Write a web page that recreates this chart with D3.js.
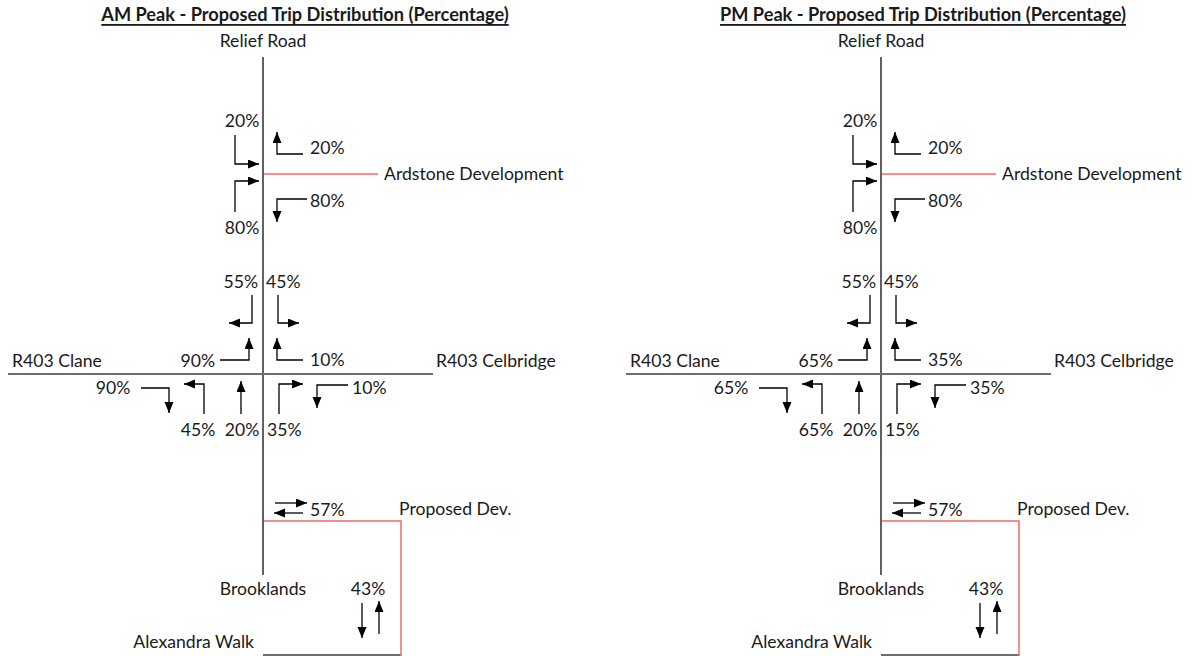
<!DOCTYPE html>
<html>
<head>
<meta charset="utf-8">
<script src="https://cdn.jsdelivr.net/npm/d3@7"></script>
<style>
  body { margin:0; background:#fff; }
  svg text { font-family: Lato, "Open Sans", sans-serif; fill:#1a1a1a; }
</style>
</head>
<body>
<div class="chart"></div>
<script>
//Data
const peaks = ['AM Peak', 'PM Peak'];
const movements = [
  'Relief Rd S to Ardstone', 'Ardstone to Relief Rd N', 'Relief Rd N to Ardstone', 'Ardstone to Relief Rd S',
  'South to R403 Clane', 'South to R403 Celbridge', 'Clane to North', 'Celbridge to North',
  'Clane to South', 'North to Clane', 'North ahead', 'North to Celbridge', 'Celbridge to South',
  'Proposed Dev. via Brooklands', 'Proposed Dev. via Alexandra Walk'
];
const amPct = [20, 20, 80, 80, 55, 45, 90, 10, 90, 45, 20, 35, 10, 57, 43];
const pmPct = [20, 20, 80, 80, 55, 45, 65, 35, 65, 65, 20, 15, 35, 57, 43];
const roadNames = ['Relief Road', 'Ardstone Development', 'R403 Clane', 'R403 Celbridge', 'Proposed Dev.', 'Brooklands', 'Alexandra Walk'];

//Layout (local coords: x relative to the main road, y from top)
const arrowLayout = [
  {paths:[[[-28,135],[-28,164],[-4,164]]], lx:-21, ly:121, a:'middle'},
  {paths:[[[40,154],[14,154],[14,132]]], lx:47, ly:148, a:'start'},
  {paths:[[[-28,212],[-28,181],[-4,181]]], lx:-21, ly:228, a:'middle'},
  {paths:[[[44,199],[14,199],[14,222]]], lx:47, ly:201, a:'start'},
  {paths:[[[-11,295],[-11,323],[-34,323]]], lx:-5, ly:282, a:'end'},
  {paths:[[[15,295],[15,323],[36,323]]], lx:3, ly:282, a:'start'},
  {paths:[[[-43,360],[-14,360],[-14,338]]], lx:-48, ly:361, a:'end'},
  {paths:[[[40,360],[14,360],[14,338]]], lx:47, ly:360, a:'start'},
  {paths:[[[-122,388],[-94,388],[-94,413]]], lx:-150, ly:388, a:'middle'},
  {paths:[[[-59,414],[-59,384],[-79,384]]], lx:-65, ly:430, a:'middle'},
  {paths:[[[-22,414],[-22,381]]], lx:-21, ly:430, a:'middle'},
  {paths:[[[16,414],[16,384],[40,384]]], lx:4, ly:430, a:'start'},
  {paths:[[[85,385],[54,385],[54,408]]], lx:89, ly:388, a:'start'},
  {paths:[[[12,503],[44,503]], [[40,513],[11,513]]], lx:47, ly:510, a:'start'},
  {paths:[[[99,603],[99,638]], [[116,634],[116,601]]], lx:105, ly:589, a:'middle'}
];
const nameLayout = [
  {x:0, y:41, a:'middle'}, {x:121, y:174, a:'start'}, {x:-251, y:361, a:'start'},
  {x:173, y:361, a:'start'}, {x:136, y:509, a:'start'}, {x:0, y:589, a:'middle'}, {x:-9, y:642, a:'end'}
];

const svg = d3.select('.chart').append('svg').attr('width', 1192).attr('height', 656);

svg.append('defs').append('marker')
  .attr('id', 'head').attr('markerUnits', 'userSpaceOnUse')
  .attr('markerWidth', 12).attr('markerHeight', 10)
  .attr('refX', 11).attr('refY', 4.5).attr('orient', 'auto')
  .append('path').attr('d', 'M0,0 L11,4.5 L0,9 Z').attr('fill', '#000');

const panelX = d3.scaleBand().domain(peaks).range([0, 1236]);
const line = d3.line();

function drawPanel(peak, values){
  const x0 = 263 + panelX(peak);
  const x = d3.scaleLinear().domain([0, 1]).range([x0, x0 + 1]);
  const y = d3.scaleLinear().domain([0, 1]).range([-1, 0]);
  const yl = d3.scaleLinear().domain([0, 1]).range([0, 1]);
  const g = svg.append('g').attr('class', 'panel');
  const pt = p => [x(p[0]), yl(p[1])];

  //roads
  g.append('path').attr('d', line([[0,57],[0,575]].map(pt)))
    .attr('stroke', '#3a3a3a').attr('stroke-width', 1.6).attr('fill', 'none');
  g.append('path').attr('d', line([[-255,374],[170,374]].map(pt)))
    .attr('stroke', '#6e6e6e').attr('stroke-width', 2).attr('fill', 'none');
  g.append('path').attr('d', line([[0,655],[138,655]].map(pt)))
    .attr('stroke', '#6e6e6e').attr('stroke-width', 2).attr('fill', 'none');
  g.append('path').attr('d', line([[1,174],[115,174]].map(pt)))
    .attr('stroke', '#f26a6a').attr('stroke-width', 1.5).attr('fill', 'none');
  g.append('path').attr('d', line([[1,521],[138,521],[138,656]].map(pt)))
    .attr('stroke', '#f26a6a').attr('stroke-width', 1.5).attr('fill', 'none');

  //title
  g.append('text').attr('x', x(42)).attr('y', y(15))
    .attr('text-anchor', 'middle').attr('dominant-baseline', 'central')
    .style('font-weight', 'bold').style('font-size', '18.2px').style('text-decoration', 'underline')
    .text(`${peak} - Proposed Trip Distribution (Percentage)`);

  //road names
  g.selectAll('.road-name').data(roadNames).join('text').attr('class', 'road-name')
    .attr('x', (d, i) => x(nameLayout[i].x)).attr('y', (d, i) => y(nameLayout[i].y))
    .attr('text-anchor', (d, i) => nameLayout[i].a).attr('dominant-baseline', 'central')
    .style('font-size', '17.6px').text(d => d);

  //arrows
  const mv = g.selectAll('.move').data(movements).join('g').attr('class', 'move');
  mv.selectAll('path').data((d, i) => arrowLayout[i].paths).join('path')
    .attr('d', p => line(p.map(pt)))
    .attr('stroke', '#000').attr('stroke-width', 1.3).attr('fill', 'none')
    .attr('marker-end', 'url(#head)');
  mv.append('text')
    .attr('x', (d, i) => x(arrowLayout[i].lx)).attr('y', (d, i) => y(arrowLayout[i].ly))
    .attr('text-anchor', (d, i) => arrowLayout[i].a).attr('dominant-baseline', 'central')
    .style('font-size', '17.6px')
    .text((d, i) => `${values[i]}%`);
}

drawPanel('AM Peak', amPct);
drawPanel('PM Peak', pmPct);
</script>
</body>
</html>
